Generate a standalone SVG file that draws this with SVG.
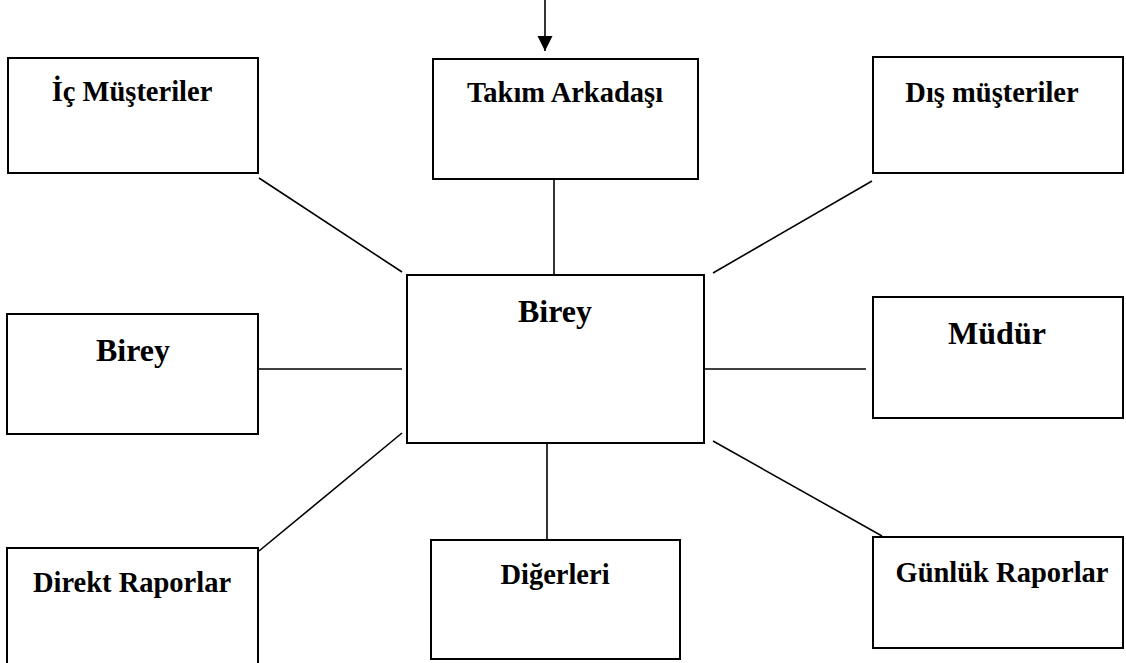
<svg xmlns="http://www.w3.org/2000/svg" width="1126" height="663" viewBox="0 0 1126 663">
  <style>
    .box { fill: #ffffff; stroke: #000000; stroke-width: 2; }
    .lbl { font-family: "Liberation Serif", "Times New Roman", serif; font-weight: bold; font-size: 28.5px; fill: #000000; text-anchor: middle; }
    .big { font-size: 32px; }
    .link { stroke: #000000; stroke-width: 1.6; fill: none; }
  </style>
  <defs>
    <marker id="arrow" markerWidth="16" markerHeight="16" refX="15" refY="7.5" orient="auto" markerUnits="userSpaceOnUse">
      <path d="M0,0 L15,7.5 L0,15 Z" fill="#000000"/>
    </marker>
  </defs>

  <g id="connectors">
    <line class="link" x1="545" y1="0" x2="545" y2="51" marker-end="url(#arrow)"/>
    <line class="link" x1="554" y1="179" x2="554" y2="274"/>
    <line class="link" x1="259" y1="178" x2="402" y2="272"/>
    <line class="link" x1="872" y1="181" x2="713" y2="273"/>
    <line class="link" x1="258" y1="369" x2="402" y2="369"/>
    <line class="link" x1="698" y1="369" x2="866" y2="369"/>
    <line class="link" x1="259" y1="551" x2="402" y2="433"/>
    <line class="link" x1="547" y1="442" x2="547" y2="539"/>
    <line class="link" x1="713" y1="441" x2="882" y2="536"/>
  </g>

  <g id="ic-musteriler">
    <rect class="box" x="8" y="58" width="250" height="115"/>
    <text class="lbl" x="132" y="101">İç Müşteriler</text>
  </g>

  <g id="takim-arkadasi">
    <rect class="box" x="433" y="59" width="265" height="120"/>
    <text class="lbl" x="565" y="102">Takım Arkadaşı</text>
  </g>

  <g id="dis-musteriler">
    <rect class="box" x="873" y="57" width="250" height="116"/>
    <text class="lbl" x="992" y="102">Dış müşteriler</text>
  </g>

  <g id="birey-merkez">
    <rect class="box" x="407" y="275" width="297" height="168"/>
    <text class="lbl big" x="555" y="322">Birey</text>
  </g>

  <g id="birey">
    <rect class="box" x="7" y="314" width="251" height="120"/>
    <text class="lbl big" x="133" y="361">Birey</text>
  </g>

  <g id="mudur">
    <rect class="box" x="873" y="297" width="250" height="121"/>
    <text class="lbl big" x="997" y="344">Müdür</text>
  </g>

  <g id="direkt-raporlar">
    <rect class="box" x="7" y="548" width="251" height="125"/>
    <text class="lbl" x="132" y="592">Direkt Raporlar</text>
  </g>

  <g id="digerleri">
    <rect class="box" x="431" y="540" width="249" height="119"/>
    <text class="lbl" x="555" y="584">Diğerleri</text>
  </g>

  <g id="gunluk-raporlar">
    <rect class="box" x="873" y="537" width="250" height="111"/>
    <text class="lbl" x="1002" y="582">Günlük Raporlar</text>
  </g>
</svg>
